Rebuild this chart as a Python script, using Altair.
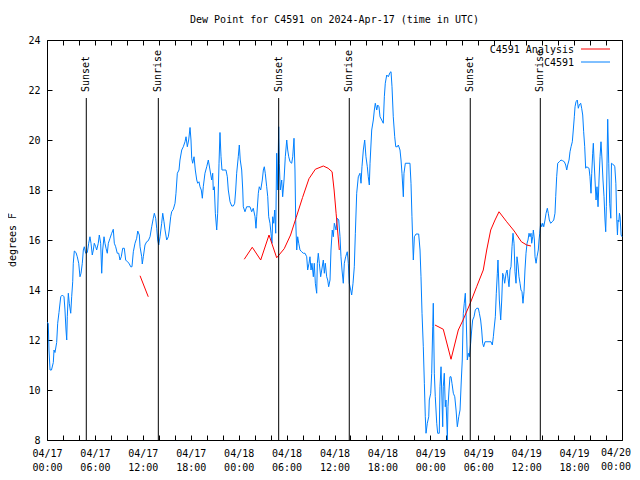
import altair as alt
import pandas as pd

# Hours since 2024-04-17 00:00 UTC and dew point (degrees F) for station C4591
obs_hours = [0, 0.16, 0.25, 0.38, 0.56, 0.79, 0.88, 1.0, 1.21, 1.34, 1.5, 1.72, 1.92, 2.13, 2.25, 2.38, 2.47, 2.54, 2.67, 2.79,
             2.97, 3.09, 3.22, 3.29, 3.42, 3.63, 3.79, 3.97, 4.13, 4.26, 4.42, 4.55, 4.67, 4.85, 5.05, 5.22, 5.38, 5.51, 5.67, 5.8,
             5.92, 6.1, 6.22, 6.42, 6.55, 6.72, 6.85, 6.97, 7.14, 7.26, 7.39, 7.55, 7.68, 7.89, 8.1, 8.3, 8.43, 8.6, 8.8, 8.98,
             9.14, 9.3, 9.48, 9.68, 9.85, 10.06, 10.27, 10.48, 10.64, 10.81, 11.02, 11.23, 11.36, 11.56, 11.65, 11.86, 11.93, 12.06, 12.27, 12.48,
             12.68, 12.9, 13.11, 13.31, 13.44, 13.61, 13.74, 13.86, 13.99, 14.15, 14.36, 14.49, 14.65, 14.78, 14.99, 15.19, 15.31, 15.49, 15.61, 15.82,
             16.03, 16.15, 16.32, 16.53, 16.65, 16.87, 17.07, 17.28, 17.41, 17.57, 17.74, 17.91, 18.03, 18.12, 18.24, 18.41, 18.57, 18.75, 18.87, 19.03,
             19.16, 19.32, 19.45, 19.57, 19.78, 20.0, 20.2, 20.41, 20.62, 20.75, 20.82, 20.95, 21.08, 21.25, 21.37, 21.54, 21.66, 21.79, 21.91, 22.16,
             22.41, 22.58, 22.7, 22.92, 23.13, 23.33, 23.5, 23.63, 23.75, 23.95, 24.08, 24.2, 24.38, 24.51, 24.58, 24.79, 25.0, 25.42, 25.63, 25.83,
             26.05, 26.17, 26.26, 26.46, 26.58, 26.76, 26.96, 27.09, 27.21, 27.33, 27.51, 27.64, 27.76, 27.92, 28.05, 28.17, 28.26, 28.39, 28.51, 28.64,
             28.76, 28.89, 29.01, 29.09, 29.21, 29.39, 29.51, 29.68, 29.84, 30.02, 30.14, 30.27, 30.43, 30.64, 30.77, 30.93, 31.05, 31.14, 31.27, 31.39,
             31.52, 31.68, 31.89, 32.09, 32.31, 32.52, 32.64, 32.81, 32.93, 33.06, 33.18, 33.35, 33.47, 33.6, 33.77, 33.85, 33.97, 34.1, 34.27, 34.4,
             34.6, 34.73, 34.85, 35.02, 35.15, 35.27, 35.44, 35.56, 35.72, 35.85, 35.98, 36.19, 36.35, 36.53, 36.69, 36.81, 36.94, 37.1, 37.23, 37.4,
             37.6, 37.73, 37.85, 38.03, 38.15, 38.32, 38.48, 38.61, 38.78, 38.98, 39.19, 39.32, 39.44, 39.61, 39.78, 39.94, 40.11, 40.23, 40.36, 40.45,
             40.66, 40.86, 40.99, 41.11, 41.29, 41.41, 41.57, 41.7, 41.91, 42.11, 42.24, 42.36, 42.54, 42.74, 42.95, 43.08, 43.2, 43.36, 43.54, 43.67,
             43.86, 43.99, 44.2, 44.33, 44.45, 44.62, 44.7, 44.87, 45.2, 45.45, 45.58, 45.7, 45.79, 45.87, 46.0, 46.21, 46.54, 46.71, 46.83, 46.96,
             47.12, 47.25, 47.37, 47.46, 47.62, 47.8, 47.87, 48.05, 48.17, 48.3, 48.37, 48.5, 48.62, 48.8, 48.92, 49.12, 49.21, 49.34, 49.46, 49.55,
             49.62, 49.75, 49.87, 49.96, 50.05, 50.13, 50.21, 50.34, 50.46, 50.59, 50.71, 50.88, 51.06, 51.22, 51.38, 51.56, 51.72, 51.88, 52.0, 52.13,
             52.25, 52.38, 52.5, 52.63, 52.76, 52.88, 53.05, 53.18, 53.3, 53.47, 53.63, 53.81, 54.01, 54.14, 54.3, 54.43, 54.55, 54.68, 54.85, 55.22,
             55.6, 55.76, 55.89, 55.97, 56.14, 56.26, 56.39, 56.47, 56.56, 56.64, 56.81, 56.94, 57.06, 57.19, 57.31, 57.48, 57.61, 57.73, 57.85, 57.98,
             58.1, 58.23, 58.35, 58.48, 58.6, 58.73, 58.85, 58.98, 59.1, 59.23, 59.35, 59.48, 59.6, 59.73, 59.85, 59.98, 60.11, 60.23, 60.36, 60.48,
             60.61, 60.69, 60.82, 60.9, 61.03, 61.11, 61.24, 61.36, 61.52, 61.61, 61.7, 61.82, 61.95, 62.07, 62.2, 62.36, 62.49, 62.65, 62.77, 62.9,
             63.07, 63.27, 63.45, 63.61, 63.7, 63.82, 63.95, 64.15, 64.36, 64.57, 64.78, 64.95, 65.08, 65.2, 65.37, 65.49, 65.62, 65.78, 65.9, 66.03,
             66.12, 66.24, 66.4, 66.53, 66.65, 66.83, 66.95, 67.08, 67.2, 67.33, 67.45, 67.58, 67.71, 67.87, 67.99, 68.12, 68.21, 68.33, 68.41, 68.5,
             68.62, 68.75, 68.87, 69.0, 69.12, 69.25, 69.37, 69.5, 69.62, 69.75, 69.87, 69.96, 70.04, 70.12, 70.21, 70.34, 70.46, 70.6, 70.68, 70.8,
             70.98, 71.1, 71.23, 71.35, 71.43, 71.51, 71.6, 71.68, 71.76, 71.89, 72.0]
obs_dewpt = [12.7, 12.67, 11.6, 10.8, 10.8, 11.1, 11.6, 11.5, 11.9, 12.67, 13.1, 13.73, 13.8, 13.73, 13.2, 12.4, 12.0, 12.93, 13.87, 13.47,
             13.07, 13.73, 14.33, 15.07, 15.56, 15.5, 15.33, 15.07, 14.53, 14.67, 15.07, 15.6, 15.73, 15.47, 15.5, 15.87, 16.13, 15.87, 15.4, 15.6,
             15.87, 15.73, 15.6, 15.87, 16.2, 15.87, 14.67, 15.6, 16.13, 15.87, 15.67, 15.47, 15.87, 16.07, 16.27, 16.43, 15.87, 15.73, 15.47, 15.47,
             15.2, 15.33, 15.67, 15.67, 15.2, 15.13, 15.07, 14.93, 14.93, 15.53, 15.87, 16.07, 16.36, 16.2, 15.73, 15.33, 15.04, 15.33, 15.8, 15.93,
             15.97, 16.13, 16.53, 16.87, 17.07, 16.87, 16.47, 16.0, 15.8, 16.13, 16.67, 17.07, 16.73, 16.4, 16.0, 16.13, 16.4, 16.93, 17.13, 17.23,
             17.47, 17.87, 18.67, 18.8, 19.2, 19.6, 19.73, 19.93, 20.13, 19.73, 20.0, 20.5, 20.0, 19.27, 19.07, 19.33, 18.8, 18.4, 18.27, 18.33,
             18.13, 18.0, 17.67, 18.13, 18.67, 18.93, 19.2, 18.8, 18.4, 18.67, 18.0, 18.13, 17.07, 16.4, 17.07, 19.07, 20.3, 19.33, 18.8, 18.8,
             18.8, 18.53, 18.0, 17.53, 17.36, 17.36, 17.47, 18.0, 18.67, 19.33, 19.8, 19.2, 18.8, 18.0, 17.33, 17.13, 17.33, 17.33, 17.13, 17.27,
             16.93, 16.47, 16.93, 17.87, 18.13, 18.0, 18.4, 18.8, 18.93, 18.67, 18.13, 17.73, 16.93, 16.67, 16.27, 15.87, 16.93, 16.67, 17.2, 16.27,
             19.47, 18.0, 20.53, 19.07, 18.0, 18.4, 17.73, 18.4, 19.33, 20.0, 19.6, 19.33, 19.13, 19.07, 19.33, 20.07, 18.8, 16.8, 15.6, 16.13,
             15.87, 15.6, 15.53, 15.47, 15.47, 15.33, 14.8, 15.07, 15.33, 14.8, 15.07, 14.53, 15.07, 14.27, 13.87, 15.07, 15.47, 15.07, 14.53, 14.8,
             15.2, 14.67, 15.07, 14.53, 14.4, 14.13, 14.4, 15.6, 16.4, 16.13, 16.67, 16.4, 16.87, 16.8, 16.13, 15.33, 14.8, 14.27, 15.07, 15.33,
             15.53, 15.07, 14.27, 14.0, 13.8, 14.27, 14.93, 16.27, 17.87, 18.53, 18.67, 18.27, 18.93, 19.6, 20.0, 19.33, 18.93, 18.53, 18.2, 19.07,
             20.4, 20.8, 21.2, 21.47, 21.2, 21.4, 21.33, 20.93, 20.8, 20.67, 21.73, 22.27, 22.6, 22.53, 22.7, 22.73, 22.13, 20.93, 20.13, 19.73,
             19.73, 19.8, 19.6, 19.2, 18.67, 17.73, 18.67, 19.07, 19.07, 19.07, 18.27, 16.93, 16.0, 15.2, 16.13, 16.24, 16.24, 15.6, 14.53, 13.07,
             11.73, 10.27, 8.93, 8.27, 8.67, 8.93, 9.6, 9.87, 10.67, 12.53, 13.47, 10.67, 9.73, 8.67, 8.27, 8.27, 10.13, 10.93, 9.6, 8.53,
             10.13, 10.67, 9.33, 9.6, 8.8, 8.0, 9.33, 10.0, 10.53, 10.53, 10.27, 9.87, 9.73, 9.2, 8.53, 8.93, 9.2, 10.4, 11.2, 13.07,
             13.47, 13.87, 12.8, 11.2, 11.47, 11.33, 11.87, 12.4, 12.8, 12.93, 13.2, 13.27, 13.27, 13.07, 12.8, 12.4, 11.87, 11.73, 11.93, 11.93,
             11.93, 11.8, 12.13, 12.4, 12.93, 13.87, 14.67, 15.2, 14.4, 13.6, 12.8, 13.6, 14.67, 14.53, 14.27, 14.67, 14.8, 14.47, 14.13, 14.8,
             14.93, 15.73, 16.27, 15.87, 14.73, 14.27, 15.33, 15.0, 14.53, 14.27, 14.0, 13.93, 13.47, 13.93, 14.8, 15.47, 15.87, 16.0, 16.27, 16.13,
             16.27, 15.87, 16.13, 16.4, 16.0, 15.33, 15.07, 15.33, 15.6, 16.0, 16.27, 16.67, 16.53, 16.67, 16.53, 16.8, 17.07, 17.27, 17.07, 16.8,
             16.67, 16.73, 16.8, 17.07, 17.73, 18.53, 19.07, 19.13, 19.2, 19.17, 19.13, 19.0, 18.8, 19.0, 19.2, 19.53, 19.73, 19.93, 20.4, 20.93,
             21.33, 21.53, 21.6, 21.27, 21.4, 21.47, 21.27, 21.0, 20.33, 19.73, 18.87, 18.93, 18.9, 18.87, 18.53, 17.87, 18.67, 19.47, 19.87, 19.2,
             18.4, 17.6, 18.13, 17.33, 18.4, 19.33, 19.93, 19.2, 18.4, 17.73, 16.8, 16.33, 17.33, 19.0, 20.83, 19.07, 17.47, 16.87, 19.07, 19.04,
             19.0, 18.93, 18.27, 16.8, 16.2, 16.8, 16.73, 17.07, 16.93, 16.2, 16.13]

# Analysis series (three separate pieces)
ana_hours = [11.65, 12.68,
             24.7, 25.7, 26.76, 27.8, 28.76, 29.7, 30.5, 31.2, 32.0, 32.8, 33.6, 34.6, 35.2, 35.7, 35.95, 36.2, 36.6,
             48.58, 49.62, 50.59, 51.5, 52.1, 52.97, 53.8, 54.63, 55.06, 55.56, 56.1, 56.6, 57.56, 58.5, 59.4, 60.07, 60.6]
ana_dewpt = [14.57, 13.73,
             15.23, 15.71, 15.2, 16.2, 15.29, 15.65, 16.2, 16.9, 17.7, 18.45, 18.83, 18.96, 18.87, 18.73, 18.0, 17.07, 15.6,
             12.6, 12.43, 11.23, 12.4, 12.8, 13.45, 14.13, 14.8, 15.6, 16.4, 16.8, 17.13, 16.73, 16.36, 15.93, 15.8, 15.76]
ana_piece = [1, 1] + [2] * 17 + [3] * 17

sun_hours = [4.92, 13.94, 29.01, 37.85, 53.0, 61.77]
sun_labels = ["Sunset", "Sunrise", "Sunset", "Sunrise", "Sunset", "Sunrise"]

x_ticks = list(range(0, 73, 2))
y_ticks = list(range(8, 25, 2))
last_tick_label = "04/20\n00:00"

title_text = "Dew Point for C4591 on 2024-Apr-17 (time in UTC)"
y_title = "degrees F"
legend_names = ["C4591 Analysis", "C4591"]

FONT = "DejaVu Sans Mono"
RED = "#ff0000"
BLUE = "#0080ff"

obs_df = pd.DataFrame({"h": obs_hours, "v": obs_dewpt})
ana_df = pd.DataFrame({"h": ana_hours, "v": ana_dewpt, "piece": ana_piece})
sun_df = pd.DataFrame({"h": sun_hours, "label": sun_labels})

xs = alt.Scale(domain=[0, 72], nice=False, zero=False)
ys = alt.Scale(domain=[8, 24], nice=False, zero=False)

# the last label (04/20 00:00) is drawn separately so that it stays inside the page
label_expr = ("datum.value % 6 == 0 && datum.value < 72 ? ['04/' + (17 + floor(datum.value / 24)), "
              "(datum.value % 24 < 10 ? '0' : '') + (datum.value % 24) + ':00'] : ''")

common_axis = dict(tickSize=5, offset=-5, domain=False, grid=False, title=None,
                   tickColor="black", labelFont=FONT, labelFontSize=10, labelColor="black")

obs = alt.Chart(obs_df).mark_line(color=BLUE, strokeWidth=1).encode(
    x=alt.X("h:Q", scale=xs, axis=alt.Axis(orient="bottom", values=x_ticks, labelExpr=label_expr,
                                          labelOverlap=False, labelFlush=False, labelPadding=8,
                                          labelLineHeight=14, **common_axis)),
    y=alt.Y("v:Q", scale=ys, axis=alt.Axis(orient="left", values=y_ticks, labelPadding=7,
                                          labelOverlap=False, **common_axis)),
)

ana = alt.Chart(ana_df).mark_line(color=RED, strokeWidth=1).encode(
    x=alt.X("h:Q", scale=xs, axis=alt.Axis(orient="top", values=x_ticks, labels=False, **common_axis)),
    y=alt.Y("v:Q", scale=ys, axis=alt.Axis(orient="right", values=y_ticks, labels=False, **common_axis)),
    detail="piece:N",
)

sun_rules = alt.Chart(sun_df).mark_rule(color="black", strokeWidth=1).encode(
    x=alt.X("h:Q", scale=xs, axis=None),
    y=alt.YDatum(21.68, axis=None),
    y2=alt.Y2Datum(8),
)

sun_text = alt.Chart(sun_df).mark_text(angle=270, align="left", baseline="middle",
                                       font=FONT, fontSize=10, color="black").encode(
    x=alt.X("h:Q", scale=xs, axis=None),
    y=alt.YDatum(21.92, axis=None),
    text="label:N",
)

last_label = alt.Chart(pd.DataFrame({"t": [last_tick_label]})).mark_text(
    font=FONT, fontSize=10, color="black", align="center", baseline="top",
    lineBreak="\n", lineHeight=14).encode(
    text="t:N", x=alt.value(569), y=alt.value(408))

title = alt.Chart(pd.DataFrame({"t": [title_text]})).mark_text(
    font=FONT, fontSize=10, color="black", align="center", baseline="middle").encode(
    text="t:N", x=alt.value(287.5), y=alt.value(-20))

ytitle = alt.Chart(pd.DataFrame({"t": [y_title]})).mark_text(
    font=FONT, fontSize=10, color="black", align="center", baseline="middle", angle=270).encode(
    text="t:N", x=alt.value(-34), y=alt.value(200))

leg_text1 = alt.Chart(pd.DataFrame({"t": [legend_names[0]]})).mark_text(
    font=FONT, fontSize=10, color="black", align="right", baseline="middle").encode(
    text="t:N", x=alt.value(527), y=alt.value(10))
leg_text2 = alt.Chart(pd.DataFrame({"t": [legend_names[1]]})).mark_text(
    font=FONT, fontSize=10, color="black", align="right", baseline="middle").encode(
    text="t:N", x=alt.value(527), y=alt.value(23))

leg_red = alt.Chart(pd.DataFrame({"t": [legend_names[0]]})).mark_rule(color=RED, strokeWidth=1).encode(
    x=alt.value(534), x2=alt.value(563), y=alt.value(9))
leg_blue = alt.Chart(pd.DataFrame({"t": [legend_names[1]]})).mark_rule(color=BLUE, strokeWidth=1).encode(
    x=alt.value(534), x2=alt.value(563), y=alt.value(22))

chart = alt.layer(
    obs, ana, sun_rules, sun_text, last_label, title, ytitle, leg_text1, leg_text2, leg_red, leg_blue
).resolve_axis(
    x="independent", y="independent"
).properties(
    width=575, height=400,
    autosize=alt.AutoSizeParams(type="none"),
    padding={"left": 39, "top": 32, "right": 10, "bottom": 32},
    background="white",
).configure_view(
    stroke="black", strokeWidth=1
)

chart.save("out.html", embed_options={"renderer": "svg", "actions": False})
